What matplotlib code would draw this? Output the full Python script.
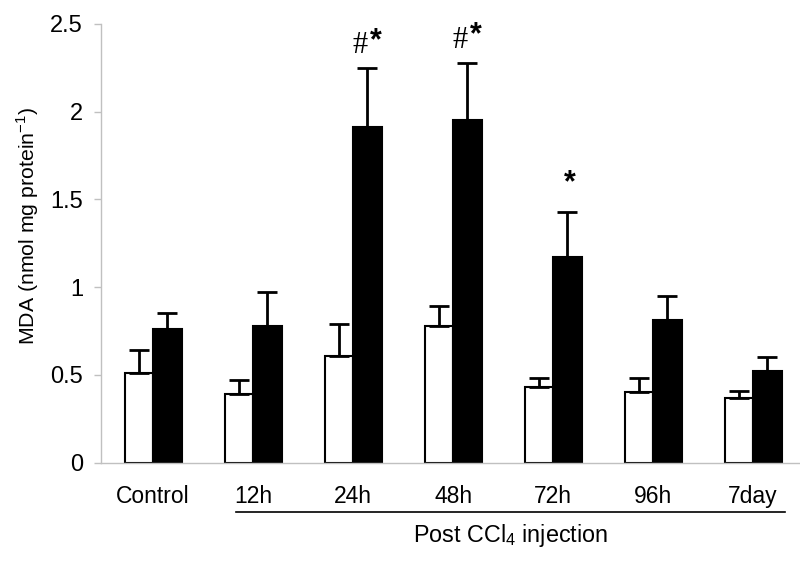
import numpy as np
import matplotlib
matplotlib.use('Agg')
import matplotlib.pyplot as plt

plt.rcParams['font.family'] = ['Liberation Sans', 'DejaVu Sans']
plt.rcParams['mathtext.fontset'] = 'custom'
plt.rcParams['mathtext.rm'] = 'Liberation Sans'

# data
groups = ['Control', '12h', '24h', '48h', '72h', '96h', '7day']
white_mean = [0.51, 0.39, 0.61, 0.78, 0.43, 0.40, 0.37]
white_err = [0.13, 0.08, 0.18, 0.11, 0.05, 0.08, 0.04]
black_mean = [0.76, 0.78, 1.91, 1.95, 1.17, 0.81, 0.52]
black_err = [0.09, 0.19, 0.34, 0.33, 0.26, 0.14, 0.08]
marks = ['', '', '#*', '#*', '*', '', '']

x = np.arange(len(groups))
w = 0.285
grey = '#c0c0c0'

fig = plt.figure(figsize=(8, 5.74), dpi=100)
ax = fig.add_axes([101 / 800, 111.5 / 574, 0.874, 438.5 / 574])

ax.bar(x - w / 2, white_mean, w, color='white', edgecolor='black', linewidth=1.5, zorder=2)
ax.bar(x + w / 2, black_mean, w, color='black', edgecolor='black', linewidth=1.5, zorder=2)
ax.errorbar(x - w / 2, white_mean, yerr=[np.zeros(len(x)), white_err], fmt='none',
            ecolor='black', elinewidth=2, capsize=7, capthick=2, zorder=3)
ax.errorbar(x + w / 2, black_mean, yerr=[np.zeros(len(x)), black_err], fmt='none',
            ecolor='black', elinewidth=2, capsize=7, capthick=2, zorder=3)

# significance marks above the black bars (offsets in pixels from the error bar top)
for xi, m, e, top in zip(x, marks, black_err, black_mean):
    y0 = top + e
    if m == '#*':
        ax.annotate('#', (xi + w / 2, y0), xytext=(-7, 15), textcoords='offset pixels',
                    ha='center', va='baseline', fontsize=22, family='Liberation Serif',
                    fontweight='light')
        ax.annotate('*', (xi + w / 2, y0), xytext=(8, 19), textcoords='offset pixels',
                    ha='center', va='baseline', fontsize=22, fontweight='bold')
    elif m == '*':
        ax.annotate('*', (xi + w / 2, y0), xytext=(2, 20), textcoords='offset pixels',
                    ha='center', va='baseline', fontsize=22, fontweight='bold')

ax.set_xlim(-0.52, 6.47)
ax.set_ylim(0, 2.5)
ax.set_yticks([0, 0.5, 1, 1.5, 2, 2.5])
ax.set_yticklabels(['0', '0.5', '1', '1.5', '2', '2.5'], fontsize=17)
ax.tick_params(axis='y', colors=grey, length=5, width=1, labelcolor='black', pad=8)
ax.set_xticks([])
for s in ['top', 'right']:
    ax.spines[s].set_visible(False)
for s in ['left', 'bottom']:
    ax.spines[s].set_color(grey)
    ax.spines[s].set_linewidth(1)

ax.set_ylabel('MDA (nmol mg protein$^{\\mathregular{-1}}$)', fontsize=15.3)
ax.yaxis.set_label_coords(-0.086, 0.54)

# category labels and bracket line
trans = ax.get_xaxis_transform()
for xi, g in zip(x, groups):
    ax.text(xi, -0.078, g, transform=trans, ha='center', va='center', fontsize=16.5)
ax.plot([0.83, 6.32], [-0.114, -0.114], transform=trans, color='black', lw=1.2, clip_on=False)
ax.text(3.57, -0.167, 'Post CCl$_4$ injection', transform=trans, ha='center', va='center',
        fontsize=16.8)

fig.savefig('out.png', dpi=100)
